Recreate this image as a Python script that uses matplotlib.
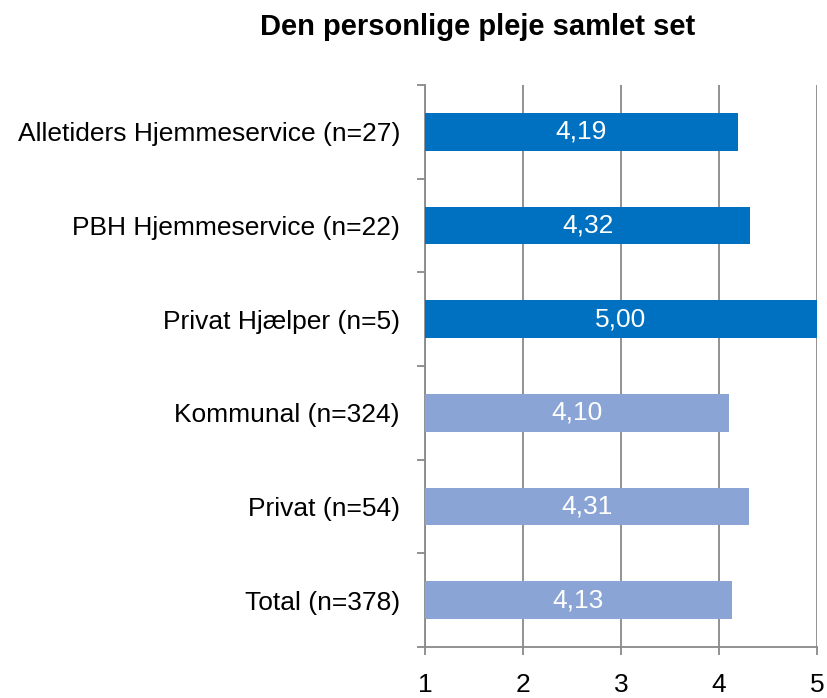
import matplotlib
matplotlib.use("Agg")
import matplotlib.pyplot as plt

plt.rcParams['font.family'] = ['Liberation Sans', 'DejaVu Sans']

categories = ["Alletiders Hjemmeservice (n=27)", "PBH Hjemmeservice (n=22)",
              "Privat Hjælper (n=5)", "Kommunal (n=324)", "Privat (n=54)", "Total (n=378)"]
values = [4.19, 4.32, 5.00, 4.10, 4.31, 4.13]
colors = ["#0070C0", "#0070C0", "#0070C0", "#8AA5D5", "#8AA5D5", "#8AA5D5"]
xticks = [1, 2, 3, 4, 5]

fig = plt.figure(figsize=(8.27, 6.98), dpi=100)
ax = fig.add_axes([425/827, 1-647/698, 392/827, 562/698])

n = len(categories)
ypos = list(range(n))
base = 1
ax.barh(ypos, [v - base for v in values], left=base, height=0.4, color=colors, zorder=3)
for y, v in zip(ypos, values):
    ax.text((base + v) / 2, y, f"{v:.2f}".replace('.', ','), ha='center', va='center',
            color='white', fontsize=19, zorder=4)

ax.set_xlim(1, 5)
ax.set_ylim(n - 0.5, -0.5)
ax.set_xticks(xticks)
ax.set_xticklabels([str(t) for t in xticks], fontsize=19)
ax.set_yticks(ypos)
ax.set_yticklabels(categories, fontsize=19)
ax.set_yticks([i - 0.5 for i in range(n + 1)], minor=True)
ax.tick_params(axis='y', which='major', length=0, pad=18)
ax.tick_params(axis='y', which='minor', length=6, color='#898989', width=1.3)
ax.tick_params(axis='x', length=6, color='#898989', width=1.3, pad=13)
ax.grid(axis='x', color='#898989', linewidth=1.3, zorder=0)
for s in ['top', 'right']:
    ax.spines[s].set_visible(False)
for s in ['left', 'bottom']:
    ax.spines[s].set_color('#898989')
    ax.spines[s].set_linewidth(1.3)

fig.text(478/827, 1-27/698, "Den personlige pleje samlet set", ha='center', va='center',
         fontsize=21, fontweight='bold')

fig.savefig("out.png", dpi=100)
